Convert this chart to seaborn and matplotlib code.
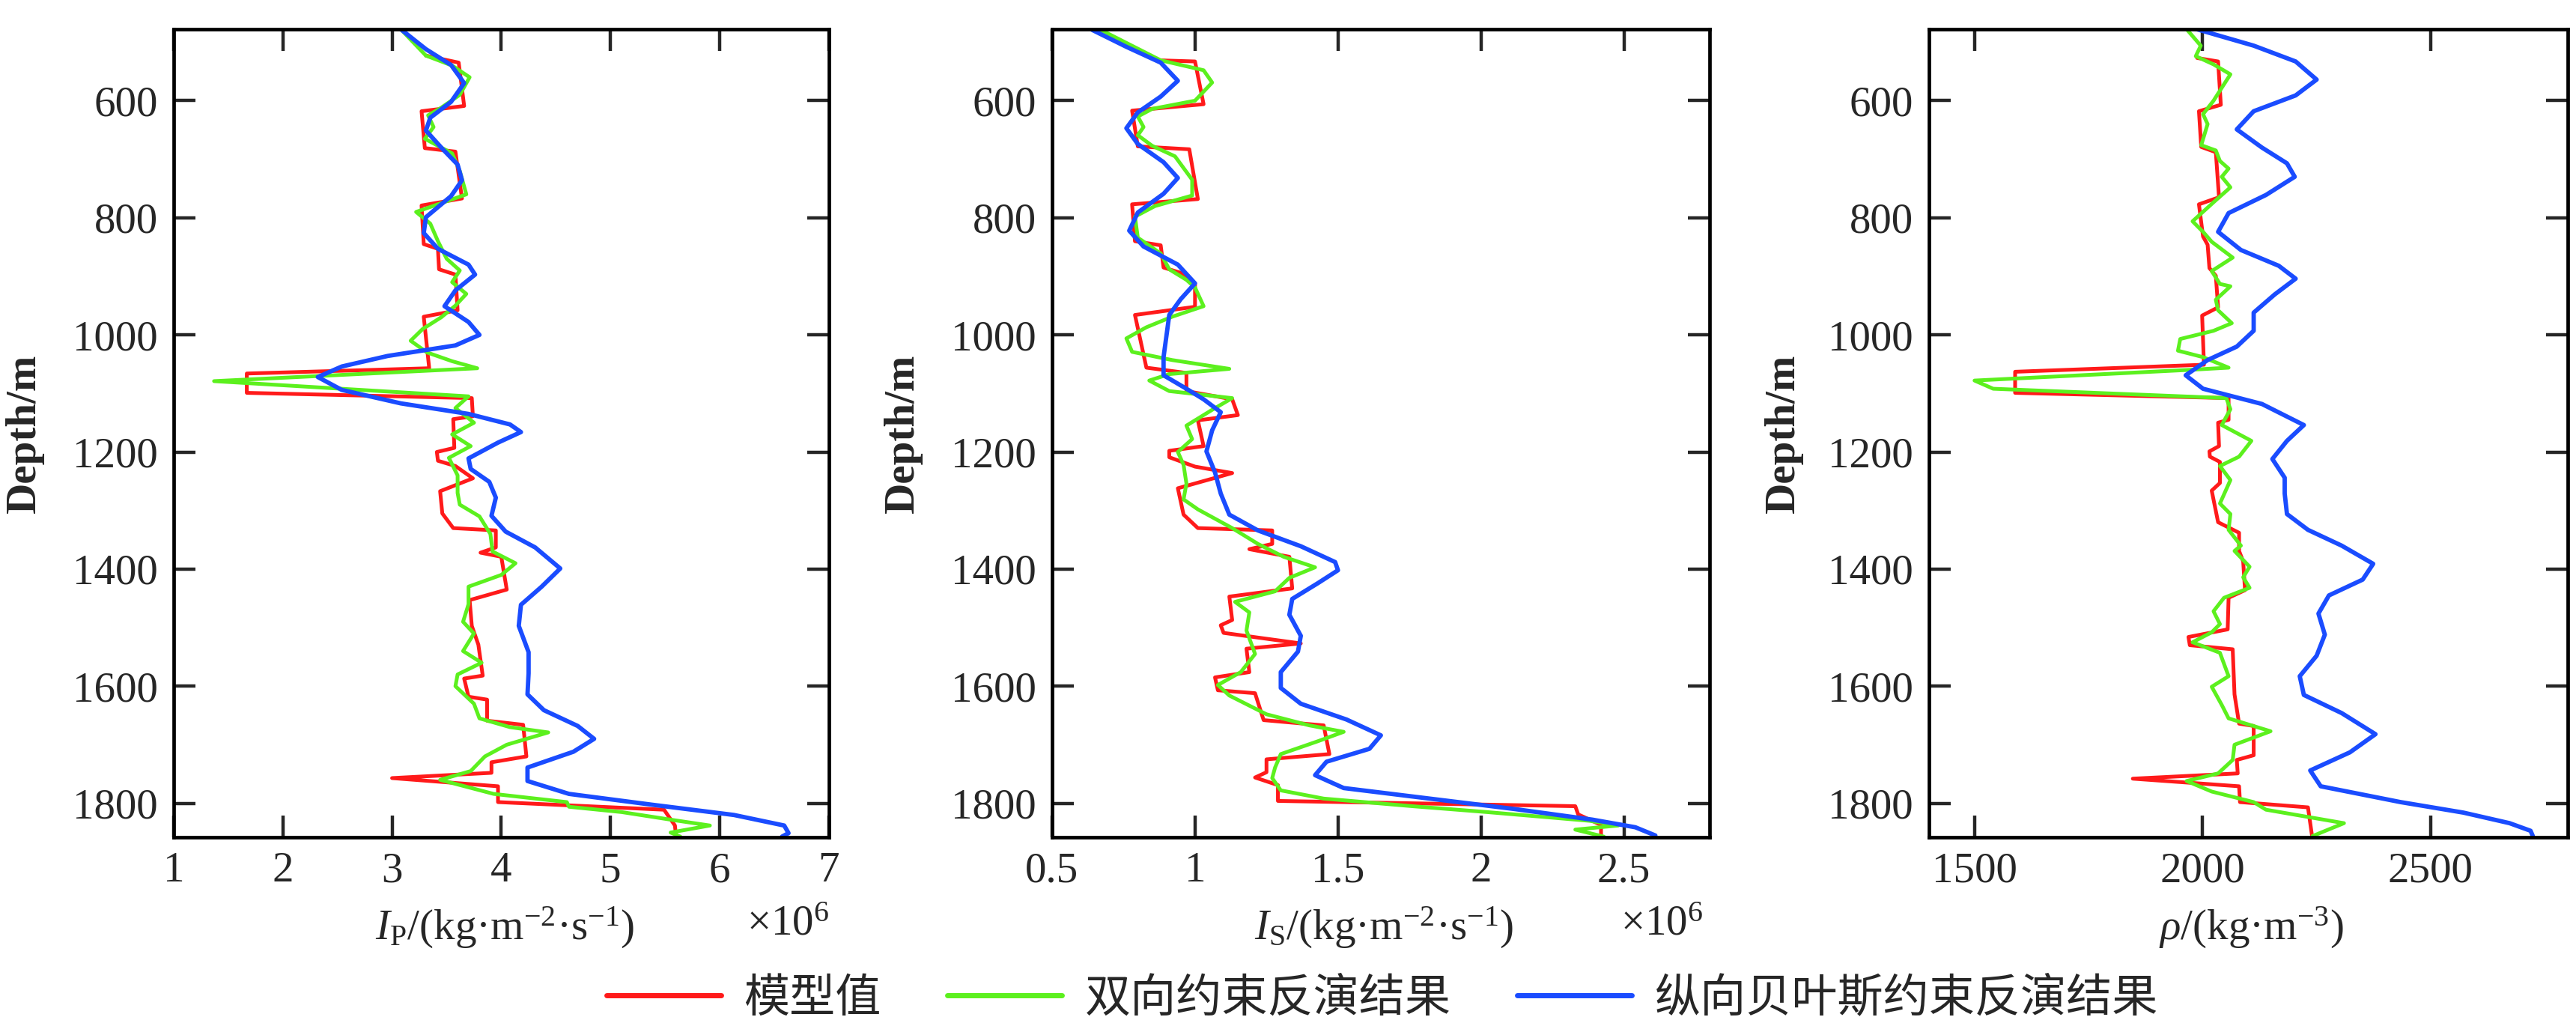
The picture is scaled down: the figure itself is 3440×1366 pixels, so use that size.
import matplotlib
matplotlib.use("Agg")
import matplotlib.pyplot as plt
from matplotlib.ticker import FormatStrFormatter
import seaborn as sns

# ---- data (depth in m) ----
# panel 1: P impedance (x1e6)
ip_model_depth = [523, 535, 609, 618, 681, 687, 767, 779, 845, 853, 888, 897, 958, 969, 1057, 1066,
                  1099, 1108, 1139, 1144, 1193, 1200, 1215, 1224, 1245, 1267, 1305, 1330, 1334, 1363,
                  1372, 1379, 1435, 1453, 1497, 1529, 1582, 1587, 1618, 1623, 1659, 1666, 1720, 1730,
                  1748, 1757, 1771, 1798, 1811, 1838, 1857]
ip_model = [3.31, 3.61, 3.66, 3.27, 3.30, 3.58, 3.64, 3.27, 3.29, 3.42, 3.43, 3.58, 3.60, 3.29, 3.34, 1.67,
            1.67, 3.73, 3.74, 3.56, 3.57, 3.41, 3.42, 3.58, 3.74, 3.44, 3.46, 3.56, 3.95, 3.95,
            3.81, 4.00, 4.05, 3.71, 3.73, 3.79, 3.83, 3.66, 3.70, 3.87, 3.87, 4.20, 4.23, 3.91,
            3.91, 3.00, 3.97, 3.97, 5.49, 5.59, 5.60]

ip_dual_depth = [478, 523, 540, 560, 590, 612, 625, 645, 665, 690, 720, 760, 775, 790, 810, 840, 870,
                 890, 910, 930, 950, 970, 990, 1010, 1030, 1045, 1057, 1079, 1105, 1125, 1150, 1170,
                 1190, 1210, 1240, 1270, 1290, 1310, 1340, 1370, 1390, 1410, 1430, 1460, 1490, 1510,
                 1540, 1560, 1580, 1600, 1630, 1655, 1670, 1679, 1700, 1720, 1745, 1760, 1784, 1798,
                 1806, 1815, 1828, 1838, 1850, 1857]
ip_dual = [3.08, 3.31, 3.55, 3.71, 3.62, 3.45, 3.33, 3.38, 3.30, 3.55, 3.62, 3.68, 3.45, 3.22, 3.35, 3.42, 3.50,
           3.62, 3.55, 3.68, 3.58, 3.45, 3.28, 3.17, 3.32, 3.55, 3.78, 1.37, 3.70, 3.58, 3.75, 3.55,
           3.72, 3.52, 3.60, 3.60, 3.62, 3.80, 3.90, 3.92, 4.13, 4.00, 3.70, 3.70, 3.65, 3.75,
           3.65, 3.82, 3.60, 3.58, 3.75, 3.80, 4.08, 4.43, 4.05, 3.85, 3.72, 3.44, 3.93, 4.60,
           4.62, 5.10, 5.55, 5.91, 5.55, 5.64]

ip_bayes_depth = [478, 512, 539, 570, 602, 629, 651, 682, 709, 736, 763, 799, 826, 853, 880, 897, 924,
                  951, 978, 1000, 1018, 1036, 1054, 1072, 1094, 1117, 1135, 1153, 1166, 1184, 1211,
                  1229, 1251, 1278, 1309, 1336, 1363, 1399, 1430, 1461, 1497, 1542, 1578, 1614, 1641,
                  1668, 1690, 1712, 1739, 1762, 1784, 1802, 1820, 1838, 1851, 1857]
ip_bayes = [3.08, 3.31, 3.54, 3.66, 3.54, 3.35, 3.31, 3.46, 3.60, 3.64, 3.54, 3.31, 3.29, 3.42, 3.70, 3.76, 3.58,
            3.48, 3.70, 3.80, 3.58, 2.96, 2.54, 2.32, 2.54, 3.08, 3.70, 4.08, 4.18, 3.97, 3.70,
            3.72, 3.89, 3.95, 3.91, 4.04, 4.31, 4.54, 4.37, 4.18, 4.16, 4.25, 4.25, 4.24, 4.39,
            4.70, 4.85, 4.66, 4.24, 4.24, 4.62, 5.36, 6.13, 6.59, 6.63, 6.57]

# panel 2: S impedance (x1e6)
is_model_depth = [531, 533, 606, 617, 678, 683, 768, 777, 840, 847, 885, 894, 912, 952, 966, 1056, 1065,
                  1096, 1110, 1137, 1146, 1190, 1198, 1209, 1225, 1236, 1262, 1307, 1330, 1334, 1357,
                  1366, 1379, 1433, 1447, 1487, 1496, 1509, 1527, 1536, 1576, 1585, 1607, 1612, 1658,
                  1667, 1716, 1725, 1747, 1756, 1769, 1796, 1805, 1819, 1837, 1857]
is_model = [0.87, 1.00, 1.03, 0.78, 0.80, 0.98, 1.01, 0.78, 0.79, 0.88, 0.89, 0.95, 1.00, 1.00, 0.79, 0.83, 0.97,
            0.97, 1.13, 1.15, 1.01, 1.03, 0.91, 0.91, 1.00, 1.13, 0.94, 0.96, 1.01, 1.27, 1.27,
            1.19, 1.33, 1.34, 1.12, 1.13, 1.09, 1.10, 1.37, 1.18, 1.19, 1.07, 1.08, 1.21, 1.24,
            1.45, 1.47, 1.25, 1.25, 1.21, 1.29, 1.29, 2.33, 2.34, 2.42, 2.42]

is_dual_depth = [479, 531, 548, 569, 600, 614, 627, 645, 659, 677, 695, 735, 762, 780, 798, 834, 861,
                 888, 906, 919, 951, 969, 987, 1006, 1029, 1043, 1058, 1067, 1078, 1096, 1108, 1128,
                 1155, 1178, 1200, 1222, 1254, 1281, 1298, 1330, 1357, 1379, 1397, 1415, 1438, 1456,
                 1474, 1505, 1545, 1576, 1598, 1616, 1648, 1667, 1678, 1694, 1716, 1739, 1757, 1778,
                 1792, 1805, 1815, 1830, 1838, 1845, 1857]
is_dual = [0.67, 0.88, 1.03, 1.06, 1.00, 0.85, 0.80, 0.82, 0.80, 0.85, 0.93, 0.99, 0.99, 0.86, 0.79, 0.80, 0.88,
           0.91, 0.97, 1.00, 1.03, 0.92, 0.83, 0.76, 0.78, 0.92, 1.12, 0.91, 0.84, 0.91, 1.13, 1.06,
           0.97, 0.99, 0.94, 0.96, 0.97, 0.96, 1.01, 1.13, 1.22, 1.31, 1.42, 1.33, 1.28, 1.14,
           1.19, 1.18, 1.21, 1.16, 1.08, 1.12, 1.25, 1.40, 1.52, 1.43, 1.30, 1.28, 1.27, 1.30,
           1.45, 1.76, 2.02, 2.38, 2.48, 2.33, 2.43]

is_bayes_depth = [479, 508, 535, 566, 593, 620, 647, 674, 705, 732, 759, 791, 822, 849, 880, 912, 939,
                  966, 1002, 1038, 1069, 1092, 1110, 1132, 1163, 1199, 1235, 1271, 1307, 1334, 1361,
                  1388, 1402, 1424, 1451, 1478, 1514, 1541, 1576, 1603, 1630, 1657, 1684, 1707, 1729,
                  1752, 1774, 1792, 1810, 1828, 1841, 1855]
is_bayes = [0.64, 0.76, 0.88, 0.94, 0.88, 0.80, 0.76, 0.80, 0.89, 0.94, 0.89, 0.80, 0.77, 0.82, 0.94, 1.00, 0.95,
            0.91, 0.90, 0.89, 0.89, 0.97, 1.03, 1.09, 1.06, 1.04, 1.07, 1.09, 1.12, 1.22, 1.37,
            1.49, 1.50, 1.43, 1.34, 1.33, 1.37, 1.36, 1.30, 1.30, 1.37, 1.53, 1.65, 1.61, 1.46,
            1.42, 1.52, 1.82, 2.12, 2.39, 2.54, 2.61]

# panel 3: density (kg/m3)
rho_model_depth = [527, 533, 607, 618, 679, 688, 765, 777, 832, 846, 886, 899, 953, 967, 1051, 1063,
                   1099, 1108, 1145, 1150, 1190, 1199, 1208, 1217, 1253, 1266, 1320, 1338, 1369, 1387,
                   1436, 1449, 1503, 1516, 1530, 1537, 1614, 1664, 1668, 1718, 1726, 1749, 1758, 1771,
                   1798, 1807, 1834, 1856]
rho_model = [1988, 2034, 2040, 1992, 1997, 2029, 2036, 1992, 2001, 2011, 2015, 2029, 2034, 1999, 2003, 1589,
             1589, 2057, 2057, 2034, 2036, 2015, 2016, 2038, 2038, 2020, 2034, 2080, 2080, 2089,
             2093, 2057, 2055, 1969, 1972, 2066, 2070, 2080, 2112, 2112, 2075, 2077, 1847, 2080,
             2082, 2231, 2236, 2240]

rho_dual_depth = [477, 506, 524, 538, 555, 578, 600, 623, 640, 676, 685, 703, 716, 730, 748, 770, 806,
                  824, 841, 868, 891, 913, 917, 940, 958, 980, 993, 1007, 1027, 1038, 1056, 1060, 1078,
                  1092, 1108, 1127, 1154, 1181, 1208, 1224, 1248, 1288, 1306, 1333, 1360, 1369, 1396,
                  1414, 1432, 1449, 1472, 1494, 1508, 1525, 1543, 1583, 1601, 1632, 1655, 1677, 1700,
                  1726, 1749, 1762, 1780, 1798, 1811, 1834, 1856]
rho_dual = [1964, 1996, 1985, 2024, 2061, 2042, 2024, 2001, 2011, 1997, 2029, 2038, 2057, 2042, 2061, 2029, 1978,
            2001, 2020, 2066, 2020, 2038, 2061, 2029, 2034, 2064, 2024, 1951, 1946, 2001, 2057, 1965, 1500,
            1541, 2052, 2061, 2042, 2107, 2080, 2038, 2061, 2038, 2061, 2057, 2084, 2070, 2103,
            2089, 2103, 2047, 2024, 2038, 2020, 1978, 2038, 2057, 2020, 2042, 2057, 2149, 2070,
            2066, 2034, 1965, 2020, 2112, 2139, 2310, 2241]

rho_bayes_depth = [477, 506, 533, 564, 591, 618, 649, 680, 707, 730, 761, 792, 824, 855, 882, 904, 931,
                   962, 993, 1020, 1043, 1069, 1092, 1118, 1154, 1181, 1212, 1244, 1271, 1306, 1333,
                   1360, 1391, 1418, 1445, 1476, 1512, 1548, 1583, 1615, 1646, 1682, 1713, 1744, 1771,
                   1798, 1816, 1834, 1847, 1856]
rho_bayes = [1983, 2112, 2204, 2250, 2204, 2112, 2075, 2130, 2185, 2202, 2139, 2057, 2034, 2084, 2167, 2204, 2158,
             2112, 2112, 2075, 2011, 1963, 2001, 2130, 2222, 2185, 2153, 2180, 2180, 2185, 2231,
             2305, 2374, 2351, 2277, 2254, 2268, 2250, 2213, 2222, 2305, 2379, 2323, 2236, 2259,
             2434, 2572, 2673, 2719, 2724]

series_names = ["模型值", "双向约束反演结果", "纵向贝叶斯约束反演结果"]
series_colors = ["#FF1A1A", "#5CF01E", "#1A4CFF"]

x_labels = [r"$I_{\mathrm{P}}$/(kg·m$^{-2}$·s$^{-1}$)",
            r"$I_{\mathrm{S}}$/(kg·m$^{-2}$·s$^{-1}$)",
            r"$\rho$/(kg·m$^{-3}$)"]
x_ticks = [[1, 2, 3, 4, 5, 6, 7], [0.5, 1, 1.5, 2, 2.5], [1500, 2000, 2500]]
x_limits = [(1, 7), (0.5, 2.8), (1400, 2800)]
y_ticks = [600, 800, 1000, 1200, 1400, 1600, 1800]

panels = [
    [(ip_model_depth, ip_model), (ip_dual_depth, ip_dual), (ip_bayes_depth, ip_bayes)],
    [(is_model_depth, is_model), (is_dual_depth, is_dual), (is_bayes_depth, is_bayes)],
    [(rho_model_depth, rho_model), (rho_dual_depth, rho_dual), (rho_bayes_depth, rho_bayes)],
]

# ---- style ----
sns.set_style("ticks")
plt.rcParams["font.family"] = ["Liberation Serif", "DejaVu Serif"]
plt.rcParams["mathtext.fontset"] = "custom"
plt.rcParams["mathtext.rm"] = "Liberation Serif"
plt.rcParams["mathtext.it"] = "Liberation Serif:italic"
plt.rcParams["mathtext.bf"] = "Liberation Serif:bold"

fig = plt.figure(figsize=(34.4, 13.66), dpi=100)
axes_rects = [
    [0.0674, 0.1816, 0.2544, 0.7898],
    [0.4084, 0.1816, 0.2553, 0.7898],
    [0.7488, 0.1816, 0.2479, 0.7898],
]
fs = 41

for i, rect in enumerate(axes_rects):
    ax = fig.add_axes(rect)
    for (d, v), name, col in zip(panels[i], series_names, series_colors):
        sns.lineplot(x=v, y=d, orient="y", sort=False, estimator=None, color=col,
                     lw=4.2 if col == series_colors[2] else 3.6, label=name, ax=ax, legend=False)
    ax.set_xlim(*x_limits[i])
    ax.set_ylim(1858, 478)
    ax.set_xticks(x_ticks[i])
    ax.set_yticks(y_ticks)
    if i == 1:
        ax.xaxis.set_major_formatter(FormatStrFormatter("%g"))
    ax.tick_params(axis="both", which="major", direction="in", length=21, width=3.2,
                   top=True, right=True, labelsize=fs)
    ax.tick_params(axis="x", pad=14)
    ax.tick_params(axis="y", pad=15)
    for sp in ax.spines.values():
        sp.set_linewidth(3.4)
        sp.set_color("black")

    ax.set_xlabel(x_labels[i], fontsize=fs)
    ax.xaxis.set_label_coords(0.505, -0.112)
    ax.xaxis.label.set_verticalalignment("center")
    ax.set_ylabel("Depth/m", fontsize=fs, fontweight="bold")
    ax.yaxis.set_label_coords(-0.227, 0.5)
    ax.yaxis.label.set_verticalalignment("center")
    if i < 2:
        ax.text(1.0 if i == 0 else 0.99, -0.108, r"×10$^{6}$", transform=ax.transAxes,
                ha="right", va="center", fontsize=fs)
    if i == 0:
        handles, labels = ax.get_legend_handles_labels()

leg = fig.legend(handles, labels, loc="center", bbox_to_anchor=(0.5366, 0.024), ncol=3,
                 frameon=False, handlelength=2.5, handletextpad=0.5, columnspacing=1.45,
                 prop={"family": ["Noto Sans CJK SC", "DejaVu Sans"], "size": 44})
for line in leg.get_lines():
    line.set_linewidth(5)

fig.savefig("out.png", dpi=100)
